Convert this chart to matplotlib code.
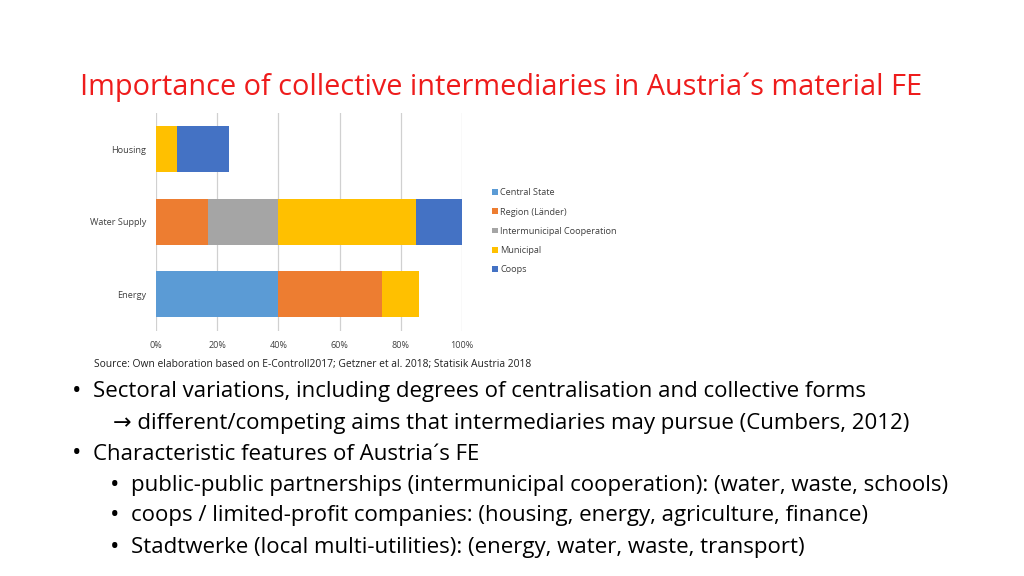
import numpy as np
import matplotlib
matplotlib.use("Agg")
import matplotlib.pyplot as plt

plt.rcParams['font.family'] = ['Open Sans', 'DejaVu Sans']

# data (share of provision, %)
sectors = ["Energy", "Water Supply", "Housing"]
groups = ["Central State", "Region (Länder)", "Intermunicipal Cooperation", "Municipal", "Coops"]
central = [40, 0, 0]
region = [34, 17, 0]
intermunicipal = [0, 23, 0]
municipal = [12, 45, 7]
coops = [0, 15, 17]
colors = ["#5B9BD5", "#ED7D31", "#A5A5A5", "#FFC000", "#4472C4"]

title = "Importance of collective intermediaries in Austria\u00b4s material FE"
source = "Source: Own elaboration based on E-Controll2017; Getzner et al. 2018; Statisik Austria 2018"
bullets = [
    (0, "Sectoral variations, including degrees of centralisation and collective forms"),
    (2, "\u2192 different/competing aims that intermediaries may pursue (Cumbers, 2012)"),
    (0, "Characteristic features of Austria\u00b4s FE"),
    (1, "public-public partnerships (intermunicipal cooperation): (water, waste, schools)"),
    (1, "coops / limited-profit companies: (housing, energy, agriculture, finance)"),
    (1, "Stadtwerke (local multi-utilities): (energy, water, waste, transport)"),
]

W, H = 1024, 576
fig = plt.figure(figsize=(W / 100, H / 100), dpi=100)

ax = fig.add_axes([156 / W, 1 - 330.5 / H, (462 - 156) / W, (330.5 - 113) / H])
y = np.arange(len(sectors))
left = np.zeros(len(sectors))
for name, vals, c in zip(groups, [central, region, intermunicipal, municipal, coops], colors):
    vals = np.array(vals, dtype=float)
    ax.barh(y, vals, left=left, height=0.64, color=c, label=name, zorder=3)
    left += vals

ax.set_xlim(0, 100)
ax.set_ylim(-0.5, len(sectors) - 0.5)
ax.set_xticks(np.arange(0, 101, 20))
ax.set_xticklabels([f"{v}%" for v in range(0, 101, 20)], fontsize=6.5, color="#404040")
ax.set_yticks(y)
ax.set_yticklabels(sectors, fontsize=6.6, color="#404040")
ax.tick_params(length=0, pad=7)
ax.tick_params(axis='x', pad=7.5)
ax.grid(axis='x', color="#D0D0D0", lw=0.9, zorder=0)
for s in ax.spines.values():
    s.set_visible(False)

handles, labels = ax.get_legend_handles_labels()
fig.legend(handles, labels, loc="upper left", bbox_to_anchor=(484 / W, 1 - 180 / H),
           frameon=False, fontsize=6.6, handlelength=0.6, handleheight=0.6,
           handletextpad=0.3, labelspacing=1.12, labelcolor="#404040")

fig.text(80 / W, 1 - 87 / H, title, color="#EE1C1C", fontsize=20.8, va="center", ha="left")
fig.text(94 / W, 1 - 364 / H, source, fontsize=7.4, va="center", ha="left", color="#202020")

y0 = 392
fs = 16
for i, (lvl, txt) in enumerate(bullets):
    yy = 1 - (y0 + 31 * i) / H
    if lvl == 0:
        fig.text(72 / W, yy, "\u2022", fontsize=fs + 2, va="center", ha="left")
        fig.text(93 / W, yy, txt, fontsize=fs, va="center", ha="left")
    elif lvl == 1:
        fig.text(110 / W, yy, "\u2022", fontsize=fs + 2, va="center", ha="left")
        fig.text(131 / W, yy, txt, fontsize=fs, va="center", ha="left")
    else:
        fig.text(113 / W, yy, txt, fontsize=fs, va="center", ha="left")

fig.savefig("out.png", dpi=100)
